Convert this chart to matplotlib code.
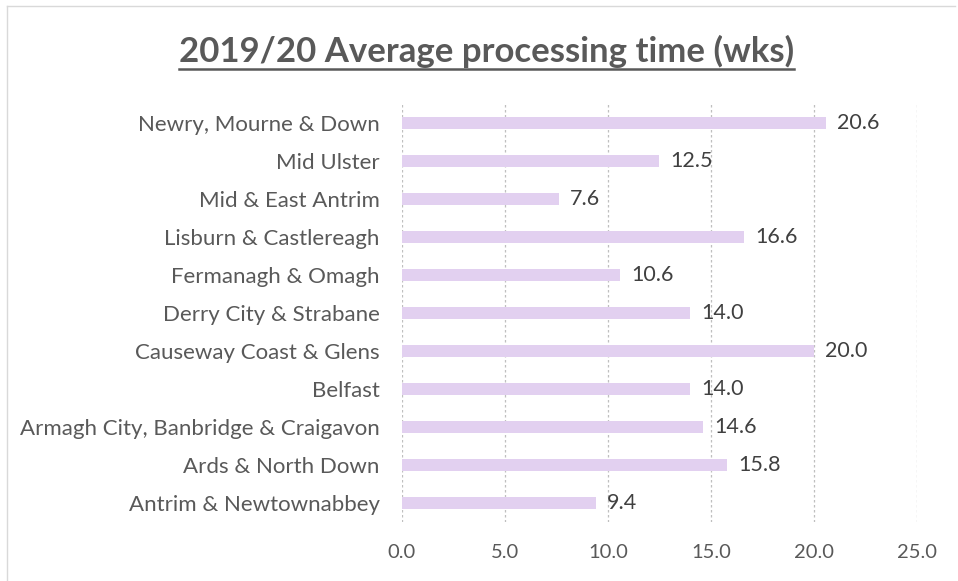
import matplotlib.pyplot as plt
from matplotlib.lines import Line2D

# 区域とデータ（上から下の順）
councils = ['Newry, Mourne & Down', 'Mid Ulster', 'Mid & East Antrim',
            'Lisburn & Castlereagh', 'Fermanagh & Omagh', 'Derry City & Strabane',
            'Causeway Coast & Glens', 'Belfast', 'Armagh City, Banbridge & Craigavon',
            'Ards & North Down', 'Antrim & Newtownabbey']
weeks = [20.6, 12.5, 7.6, 16.6, 10.6, 14.0, 20.0, 14.0, 14.6, 15.8, 9.4]
xticks = [0, 5, 10, 15, 20, 25]

plt.rcParams['font.family'] = ['Lato', 'DejaVu Sans']
grey = '#595959'

fig = plt.figure(figsize=(9.58, 5.81), dpi=100)
ax = fig.add_axes([0.4196, 0.1015, 0.5376, 0.7195])

y = list(range(len(councils)))[::-1]
ax.barh(y, weeks, height=0.32, color='#E2D0F0')
for yi, v in zip(y, weeks):
    ax.annotate(f'{v:.1f}', (v, yi), xytext=(8, 0), textcoords='offset points',
                va='center', ha='left', fontsize=15.5, color='#404040')

ax.set_yticks(y)
ax.set_yticklabels(councils, fontsize=16, color=grey)
ax.set_xticks(xticks)
ax.set_xticklabels([f'{t:.1f}' for t in xticks], fontsize=14.5, color=grey)
ax.set_xlim(0, 25)
ax.set_ylim(-0.5, 10.5)
ax.tick_params(length=0)
ax.tick_params(axis='y', pad=16)
ax.tick_params(axis='x', pad=16)
ax.xaxis.grid(True, color='#BFBFBF', linestyle=(0, (2, 2)), linewidth=0.9)
ax.set_axisbelow(True)
for s in ax.spines.values():
    s.set_visible(False)

# タイトル（下線付き）
t = fig.text(0.508, 0.912, '2019/20 Average processing time (wks)', ha='center', va='center',
             fontsize=25, fontweight='bold', color=grey)
fig.canvas.draw()
bb = t.get_window_extent().transformed(fig.transFigure.inverted())
fig.add_artist(Line2D([bb.x0, bb.x1], [bb.y0 - 0.002, bb.y0 - 0.002],
                      transform=fig.transFigure, color=grey, linewidth=1.8))

# 枠線（上と左）
fig.add_artist(Line2D([0.0073, 0.997], [0.99, 0.99], transform=fig.transFigure, color='#D9D9D9', linewidth=1))
fig.add_artist(Line2D([0.0073, 0.0073], [0.0, 0.99], transform=fig.transFigure, color='#D9D9D9', linewidth=1))

plt.savefig('out.png', dpi=100)
